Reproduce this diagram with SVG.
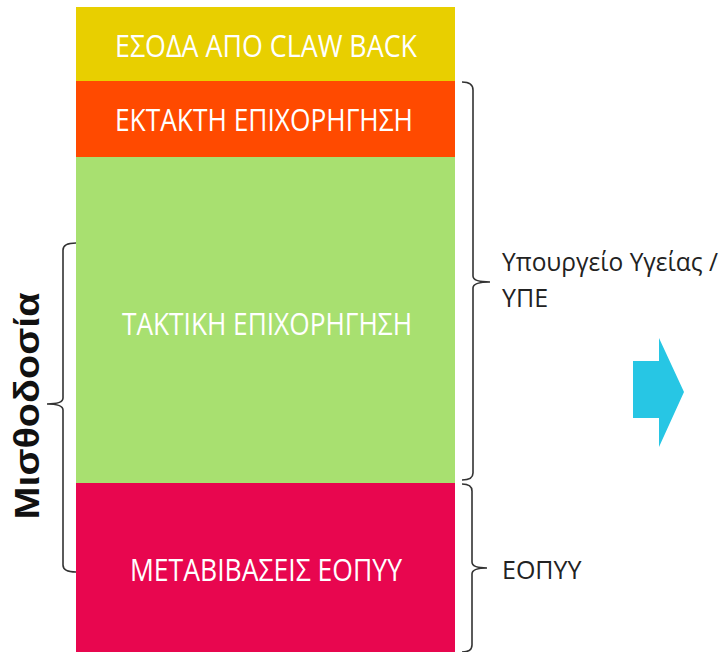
<svg xmlns="http://www.w3.org/2000/svg" width="725" height="652" viewBox="0 0 725 652">
<style>
.lbl{font-family:"Open Sans","Liberation Sans",sans-serif;font-size:31px;fill:#ffffff;text-anchor:middle}
.side{font-family:"Open Sans","Liberation Sans",sans-serif;font-size:25px;fill:#222222}
.brace{fill:none;stroke:#333333;stroke-width:1.6}
</style>
<rect width="725" height="652" fill="#ffffff"/>
<g id="claw">
<rect x="76" y="7" width="379" height="74" fill="#E8CF00"/>
<text class="lbl" x="266" y="57" textLength="302" lengthAdjust="spacingAndGlyphs">ΕΣΟΔΑ ΑΠΟ CLAW BACK</text>
</g>
<g id="ektakti">
<rect x="76" y="81" width="379" height="76" fill="#FF4A00"/>
<text class="lbl" x="264" y="131" textLength="298" lengthAdjust="spacingAndGlyphs">ΕΚΤΑΚΤΗ ΕΠΙΧΟΡΗΓΗΣΗ</text>
</g>
<g id="taktiki">
<rect x="76" y="157" width="379" height="326" fill="#A8E070"/>
<text class="lbl" x="267" y="335" textLength="290" lengthAdjust="spacingAndGlyphs">ΤΑΚΤΙΚΗ ΕΠΙΧΟΡΗΓΗΣΗ</text>
</g>
<g id="metavivaseis">
<rect x="76" y="483" width="379" height="169" fill="#E8064F"/>
<text class="lbl" x="266" y="581" textLength="272" lengthAdjust="spacingAndGlyphs">ΜΕΤΑΒΙΒΑΣΕΙΣ ΕΟΠΥΥ</text>
</g>
<g id="misthodosia">
<path class="brace" d="M76,243 Q63,243 63,250 L63,398 Q63,404 47,404 Q63,404 63,410 L63,565 Q63,572 76,572"/>
<text x="39" y="406" transform="rotate(-90 39 406)" text-anchor="middle" font-family="Liberation Sans, Arial, sans-serif" font-weight="bold" font-size="35" fill="#111111" textLength="227" lengthAdjust="spacingAndGlyphs">Μισθοδοσία</text>
</g>
<g id="ypourgeio">
<path class="brace" d="M462,82 Q473,82 473,90 L473,276 Q473,282 490,282 Q473,282 473,288 L473,473 Q473,480 462,480"/>
<text class="side" x="502" y="271" textLength="216" lengthAdjust="spacingAndGlyphs">Υπουργείο Υγείας /</text>
<text class="side" x="502" y="307">ΥΠΕ</text>
</g>
<g id="eopyy">
<path class="brace" d="M462,484 Q472,484 472,491 L472,562 Q472,568 487,568 Q472,568 472,574 L472,645 Q472,652 462,652"/>
<text class="side" x="502" y="579">ΕΟΠΥΥ</text>
</g>
<g id="arrow">
<polygon points="633,361 659,361 659,338 684,392 659,447 659,418 633,418" fill="#27C6E4"/>
</g>
</svg>
